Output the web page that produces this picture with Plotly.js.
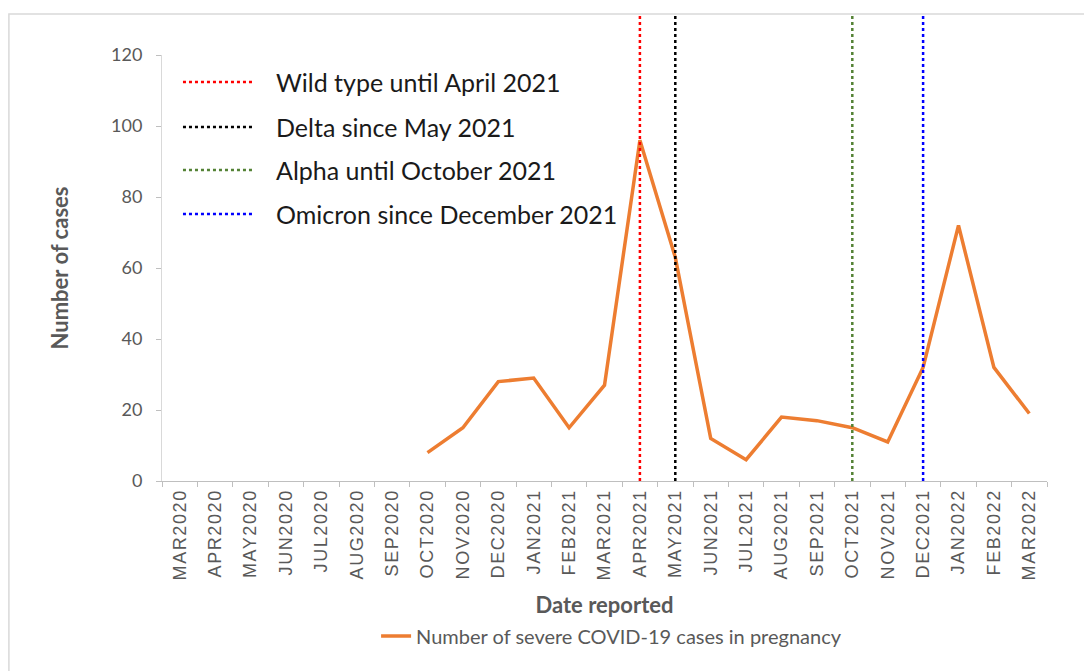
<!DOCTYPE html>
<html>
<head>
<meta charset="utf-8">
<script src="https://cdn.plot.ly/plotly-3.0.1.min.js"></script>
<style>
html,body{margin:0;padding:0;background:#fff;}
#chart{width:1084px;height:671px;}
.xtick text{letter-spacing:1.6px;}
</style>
</head>
<body>
<div id="chart"></div>
<script>
// Categories (months reported)
const months = ['MAR2020','APR2020','MAY2020','JUN2020','JUL2020','AUG2020','SEP2020','OCT2020','NOV2020','DEC2020','JAN2021','FEB2021','MAR2021','APR2021','MAY2021','JUN2021','JUL2021','AUG2021','SEP2021','OCT2021','NOV2021','DEC2021','JAN2022','FEB2022','MAR2022'];
// Number of severe COVID-19 cases in pregnancy (no data before OCT2020)
const severeCases = [null,null,null,null,null,null,null,8,15,28,29,15,27,96,63,12,6,18,17,15,11,32,72,32,19];
// Variant marker lines
const variantNames = ['Wild type until April 2021','Delta since May 2021','Alpha until October 2021','Omicron since December 2021'];
const variantMonths = ['APR2021','MAY2021','OCT2021','DEC2021'];
const variantColors = ['#FF0000','#000000','#548235','#0000FF'];
const seriesName = 'Number of severe COVID-19 cases in pregnancy';
const yTicks = [0,20,40,60,80,100,120];

const traces = [{
  type:'scatter', mode:'lines', x:months, y:severeCases, name:seriesName,
  line:{color:'#ED7D31', width:3.5}, connectgaps:false, showlegend:true
}];

const shapes = [];
const annotations = [];
// outer chart border
shapes.push({type:'rect', xref:'paper', yref:'paper', x0:-0.173, x1:1.06, y0:-0.5, y1:1.096,
  line:{color:'#D9D9D9', width:1.5}, fillcolor:'rgba(0,0,0,0)', layer:'below'});
// vertical variant lines
variantMonths.forEach((m,i)=>{
  shapes.push({type:'line', xref:'x', yref:'paper', x0:m, x1:m, y0:0, y1:1.092,
    line:{color:variantColors[i], width:2.5, dash:'dot'}});
});
// custom in-plot legend for variants
const legY = [0.9366,0.831,0.730,0.627];
variantNames.forEach((n,i)=>{
  shapes.push({type:'line', xref:'paper', yref:'paper', x0:0.0237, x1:0.1028, y0:legY[i], y1:legY[i],
    line:{color:variantColors[i], width:2.5, dash:'dot'}});
  annotations.push({xref:'paper', yref:'paper', x:0.1265, y:legY[i], xanchor:'left', yanchor:'middle',
    text:n, showarrow:false, font:{family:'Lato, "Open Sans", sans-serif', size:25, color:'#1a1a1a'}});
});

const layout = {
  width:1084, height:671,
  margin:{l:162, r:37, t:55, b:190},
  paper_bgcolor:'#ffffff', plot_bgcolor:'#ffffff',
  showlegend:true,
  legend:{orientation:'h', x:0.508, xanchor:'center', y:-0.364, yanchor:'middle',
    font:{family:'Lato, "Open Sans", sans-serif', size:20, color:'#595959'}, bgcolor:'rgba(0,0,0,0)'},
  xaxis:{
    type:'category', categoryarray:months, range:[-0.5,24.5],
    tickangle:-90, tickson:'boundaries', ticks:'outside', ticklen:5, tickcolor:'#BFBFBF',
    showline:true, linecolor:'#BFBFBF', linewidth:1, showgrid:false, zeroline:false,
    tickfont:{family:'"Liberation Sans", Arial, sans-serif', size:18, color:'#595959'},
    title:{text:'<b>Date reported</b>', standoff:18, font:{family:'Lato, "Open Sans", sans-serif', size:22, color:'#595959'}},
    automargin:false, fixedrange:true
  },
  yaxis:{
    range:[0,120], tickvals:yTicks, ticks:'outside', ticklen:5, tickcolor:'#BFBFBF',
    showline:true, linecolor:'#D9D9D9', linewidth:1, showgrid:false, zeroline:false,
    tickfont:{family:'Lato, "Open Sans", sans-serif', size:18, color:'#595959'},
    ticklabelstandoff:10,
    title:{text:'<b>Number of cases</b>', standoff:36, font:{family:'Lato, "Open Sans", sans-serif', size:22, color:'#595959'}},
    automargin:false, fixedrange:true
  },
  shapes:shapes, annotations:annotations
};

Plotly.newPlot('chart', traces, layout, {displayModeBar:false, staticPlot:true});
</script>
</body>
</html>
